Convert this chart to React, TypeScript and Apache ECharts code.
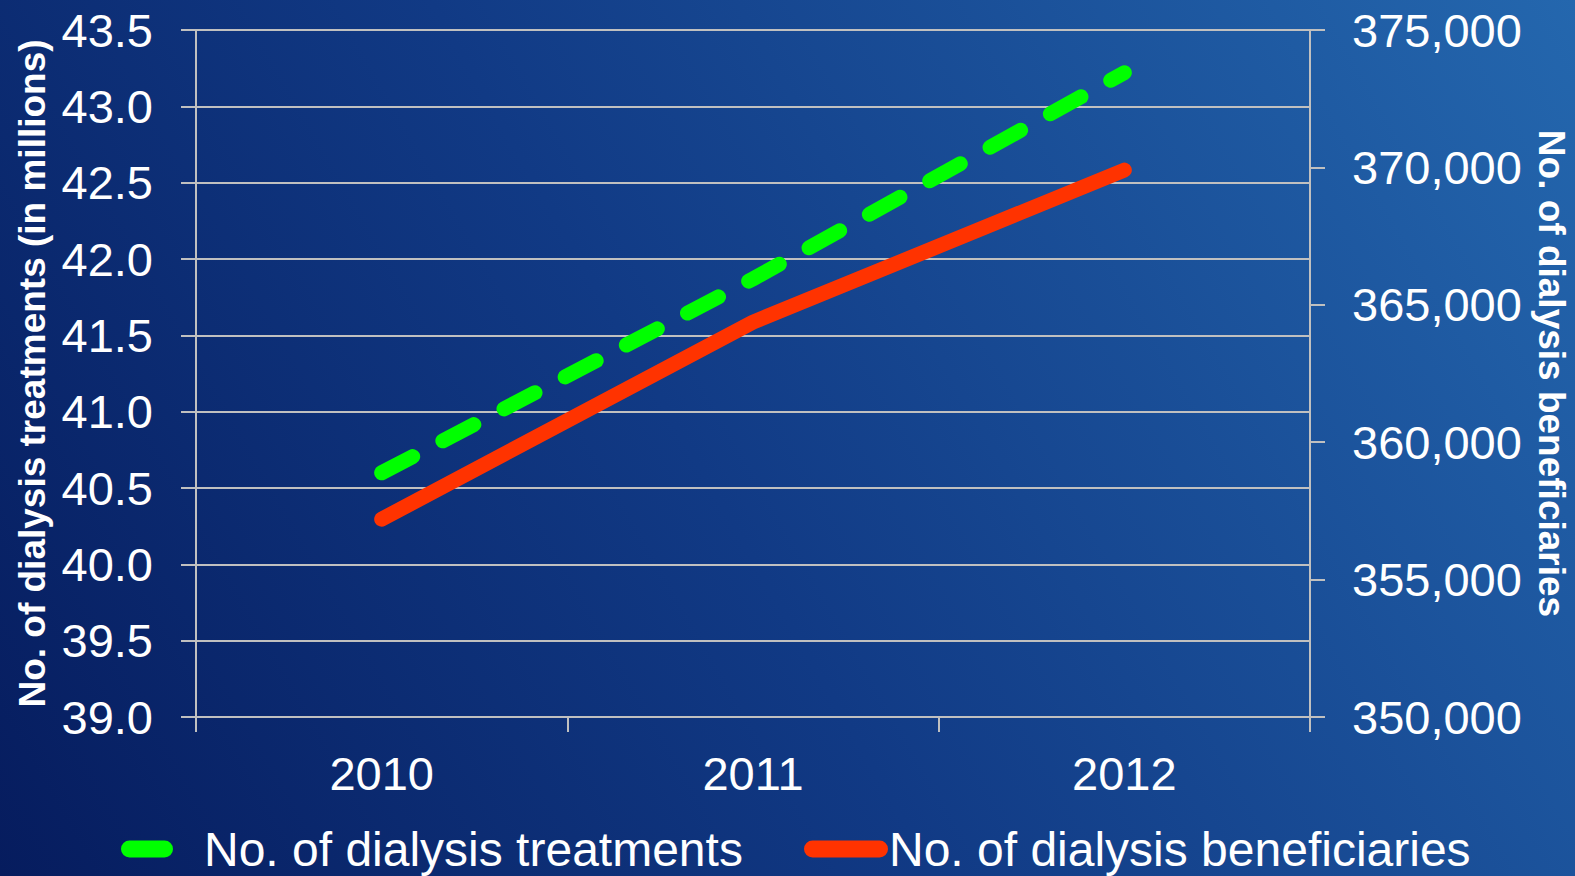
import React, { useEffect, useRef } from "react";
import * as echarts from "echarts";

const categories = ["2010", "2011", "2012"];
const treatments = [40.6, 41.87, 43.22];
const beneficiaries = [357200, 364370, 369900];
const leftTicks = { min: 39, max: 43.5, interval: 0.5 };
const rightTicks = { min: 350000, max: 375000, interval: 5000 };
const seriesNames = ["No. of dialysis treatments", "No. of dialysis beneficiaries"];

const FONT = "'Liberation Sans', Arial, sans-serif";
const GRID = "#c0c0c0";

export default function App() {
  const ref = useRef<HTMLDivElement>(null);
  useEffect(() => {
    document.body.style.margin = "0";
    const chart = echarts.init(ref.current!, undefined, { renderer: "svg" });
    const pill1 = "path://M8.5,0H43.5A8.5,8.5,0,0,1,43.5,17H8.5A8.5,8.5,0,0,1,8.5,0Z";
    const pill2 = "path://M8.5,0H75.5A8.5,8.5,0,0,1,75.5,17H8.5A8.5,8.5,0,0,1,8.5,0Z";
    const legendText = { color: "#ffffff", fontSize: 48, lineHeight: 46, fontFamily: FONT };
    chart.setOption({
      animation: false,
      backgroundColor: "transparent",
      textStyle: { fontFamily: FONT },
      grid: { left: 196, right: 265, top: 30, bottom: 159, outerBoundsMode: "none" },
      legend: [
        {
          data: [seriesNames[0]],
          left: 121,
          top: 825,
          padding: 0,
          icon: pill1,
          itemWidth: 52,
          itemHeight: 17,
          itemStyle: { borderWidth: 0 },
          textStyle: { ...legendText, padding: [0, 0, 0, 26] },
          selectedMode: false,
        },
        {
          data: [seriesNames[1]],
          left: 804,
          top: 825,
          padding: 0,
          icon: pill2,
          itemWidth: 84,
          itemHeight: 17,
          itemStyle: { borderWidth: 0 },
          textStyle: { ...legendText, padding: [0, 0, 0, -4] },
          selectedMode: false,
        },
      ],
      xAxis: {
        type: "category",
        data: categories,
        boundaryGap: true,
        axisLine: { show: true, lineStyle: { color: GRID, width: 2 } },
        axisTick: { show: true, length: 15, lineStyle: { color: GRID, width: 2 } },
        axisLabel: { color: "#ffffff", fontSize: 47, fontFamily: FONT, margin: 33 },
        splitLine: { show: false },
      },
      yAxis: [
        {
          type: "value",
          position: "left",
          min: leftTicks.min,
          max: leftTicks.max,
          interval: leftTicks.interval,
          name: "No. of dialysis treatments (in millions)",
          nameLocation: "middle",
          nameGap: 142,
          nameTextStyle: { color: "#ffffff", fontSize: 37, fontWeight: "bold", fontFamily: FONT },
          axisLine: { show: true, lineStyle: { color: GRID, width: 2 } },
          axisTick: { show: true, length: 15, lineStyle: { color: GRID, width: 2 } },
          axisLabel: {
            color: "#ffffff",
            fontSize: 47,
            fontFamily: FONT,
            margin: 43,
            formatter: (v: number) => v.toFixed(1),
          },
          splitLine: { show: true, lineStyle: { color: GRID, width: 2 } },
        },
        {
          type: "value",
          position: "right",
          min: rightTicks.min,
          max: rightTicks.max,
          interval: rightTicks.interval,
          name: "No. of dialysis beneficiaries",
          nameLocation: "middle",
          nameRotate: -90,
          nameGap: 210,
          nameTextStyle: { color: "#ffffff", fontSize: 37, fontWeight: "bold", fontFamily: FONT },
          axisLine: { show: true, lineStyle: { color: GRID, width: 2 } },
          axisTick: { show: true, length: 15, lineStyle: { color: GRID, width: 2 } },
          axisLabel: {
            color: "#ffffff",
            fontSize: 47,
            fontFamily: FONT,
            margin: 42,
            formatter: (v: number) => v.toLocaleString("en-US"),
          },
          splitLine: { show: false },
        },
      ],
      series: [
        {
          name: seriesNames[0],
          type: "line",
          yAxisIndex: 0,
          data: treatments,
          symbol: "none",
          color: "#00ff00",
          itemStyle: { color: "#00ff00" },
          lineStyle: { color: "#00ff00", width: 15, type: [35, 34], cap: "round", join: "round" },
          z: 3,
        },
        {
          name: seriesNames[1],
          type: "line",
          yAxisIndex: 1,
          data: beneficiaries,
          symbol: "none",
          color: "#ff3300",
          itemStyle: { color: "#ff3300" },
          lineStyle: { color: "#ff3300", width: 15, cap: "round", join: "round" },
          z: 2,
        },
      ],
    });
    return () => chart.dispose();
  }, []);
  return (
    <div
      ref={ref}
      style={{
        width: 1575,
        height: 876,
        background: "linear-gradient(60deg, #061c5e 0%, #113a85 45%, #2467ae 100%)",
      }}
    />
  );
}
